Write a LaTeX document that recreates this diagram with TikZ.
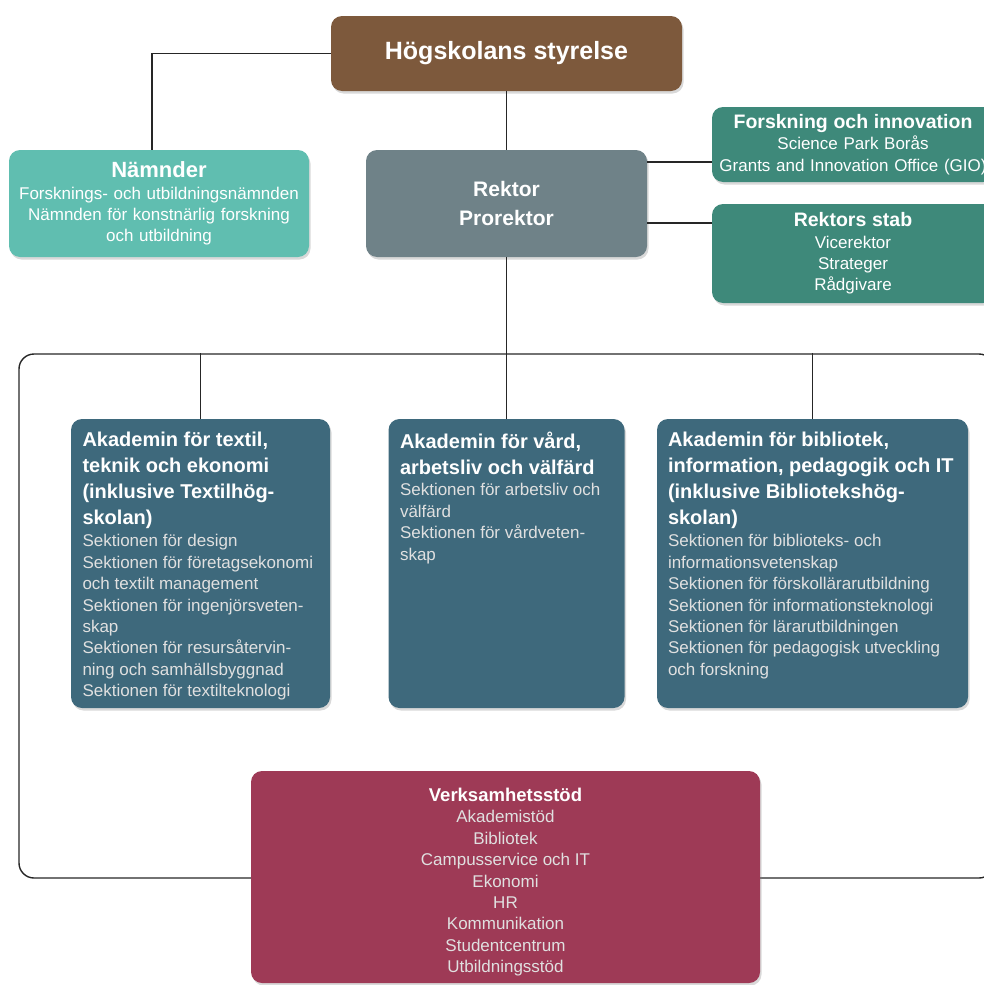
\documentclass[tikz,border=0pt]{standalone}
\usepackage{fontspec}
\setmainfont{Liberation Sans}
\usetikzlibrary{positioning, shadows}

\definecolor{styrbrun}{RGB}{125,89,60}
\definecolor{namnturkos}{RGB}{96,190,176}
\definecolor{rektorgra}{RGB}{111,130,136}
\definecolor{stabgron}{RGB}{62,137,122}
\definecolor{akablue}{RGB}{62,105,124}
\definecolor{vsrod}{RGB}{158,58,86}

\newcommand{\brodtext}{\fontsize{17}{21.4}\selectfont\color{white!88!black}}
\newcommand{\rubrik}[2]{{\bfseries\fontsize{#1}{21.4}\selectfont\color{white}#2}}
\newcommand{\akarubrik}{\bfseries\fontsize{20}{26}\selectfont\color{white}}
\newcommand{\toppbox}[3]{\begin{minipage}[c][#1][t]{#2}#3\end{minipage}}

\tikzstyle{orgbox} = [rounded corners=11pt,inner sep=0pt,text=white,drop shadow={shadow xshift=1.5pt,shadow yshift=-2.5pt,opacity=.3}]
\tikzstyle{ram} = [draw=black!85,line width=1.4pt,rounded corners=15pt,inner sep=0pt,minimum width=975pt,minimum height=524pt]
\tikzstyle{conn} = [draw=black!85,line width=1.4pt]

\begin{document}
\begin{tikzpicture}[x=1pt,y=-1pt]
	\clip (0,0) rectangle (984,985);
	
	%% ram runt akademierna
	\node[ram] (ram) at (506.5,616) {};
	
	%% ledning
	\node[orgbox, fill=styrbrun, minimum width=351pt, minimum height=75pt, font=\bfseries\fontsize{25}{30}\selectfont] (styrelse) at (506.5,53.5) {Högskolans styrelse};
	\node[orgbox, fill=namnturkos, minimum width=300pt, minimum height=107pt, text width=290pt, align=center, font=\brodtext] (namnder) at (159,203.5) {\rubrik{22}{Nämnder}\\ Forsknings- och utbildningsnämnden\\ Nämnden för konstnärlig forskning\\ och utbildning};
	\node[orgbox, fill=rektorgra, minimum width=281pt, minimum height=107pt, text width=260pt, align=center, font=\bfseries\fontsize{21}{29}\selectfont] (rektor) at (506.5,203.5) {Rektor\\ Prorektor};
	\node[orgbox, fill=stabgron, minimum width=282pt, minimum height=75pt, text width=276pt, align=center, font=\brodtext] (forskning) at (853,144.5) {\rubrik{19.5}{Forskning och innovation}\\ Science Park Borås\\ Grants and Innovation Office (GIO)};
	\node[orgbox, fill=stabgron, minimum width=282pt, minimum height=99pt, text width=276pt, align=center, font=\brodtext] (stab) at (853,253.5) {\rubrik{19.5}{Rektors stab}\\ Vicerektor\\ Strateger\\ Rådgivare};
	
	%% akademier
	\node[orgbox, fill=akablue, inner xsep=11.5pt, inner ysep=13pt] (aka1) at (200.5,563.5) {\toppbox{263pt}{236pt}{\raggedright
			{\akarubrik Akademin för textil,\\ teknik och ekonomi\\ (inklusive Textilhög-\\ skolan)\par}\vspace{1pt}
			\brodtext Sektionen för design\\ Sektionen för företagsekonomi\\ och textilt management\\ Sektionen för ingenjörsveten-\\ skap\\ Sektionen för resursåtervin-\\ ning och samhällsbyggnad\\ Sektionen för textilteknologi}};
	\node[orgbox, fill=akablue, inner xsep=11.5pt, inner ysep=13pt] (aka2) at (506.5,563.5) {\toppbox{263pt}{213pt}{\raggedright
			{\akarubrik Akademin för vård,\\ arbetsliv och välfärd\par}
			\brodtext Sektionen för arbetsliv och\\ välfärd\\ Sektionen för vårdveten-\\ skap}};
	\node[orgbox, fill=akablue, inner xsep=11pt, inner ysep=13pt] (aka3) at (812.5,563.5) {\toppbox{263pt}{289pt}{\raggedright
			{\akarubrik Akademin för bibliotek,\\ information, pedagogik och IT\\ (inklusive Bibliotekshög-\\ skolan)\par}\vspace{1pt}
			\brodtext Sektionen för biblioteks- och\\ informationsvetenskap\\ Sektionen för förskollärarutbildning\\ Sektionen för informationsteknologi\\ Sektionen för lärarutbildningen\\ Sektionen för pedagogisk utveckling\\ och forskning}};
	
	%% verksamhetsstöd
	\node[orgbox, fill=vsrod, inner xsep=12pt, inner ysep=17pt] (stod) at (505.5,877) {\toppbox{178pt}{485pt}{\centering
			\rubrik{18.5}{Verksamhetsstöd}\\ \brodtext Akademistöd\\ Bibliotek\\ Campusservice och IT\\ Ekonomi\\ HR\\ Kommunikation\\ Studentcentrum\\ Utbildningsstöd}};
	
	%% linjer
	\draw[conn] (styrelse.west) -| ([xshift=-7pt]namnder.north);
	\draw[conn] (styrelse) -- (rektor);
	\draw[conn] ([yshift=-17.5pt]forskning.west -| rektor.east) -- ([yshift=-17.5pt]forskning.west);
	\draw[conn] ([yshift=30.5pt]stab.west -| rektor.east) -- ([yshift=30.5pt]stab.west);
	\draw[conn] (rektor.south) -- (rektor.south |- ram.north);
	\foreach \a in {aka1,aka2,aka3}
		\draw[conn] (\a.north) -- (\a.north |- ram.north);
\end{tikzpicture}
\end{document}
